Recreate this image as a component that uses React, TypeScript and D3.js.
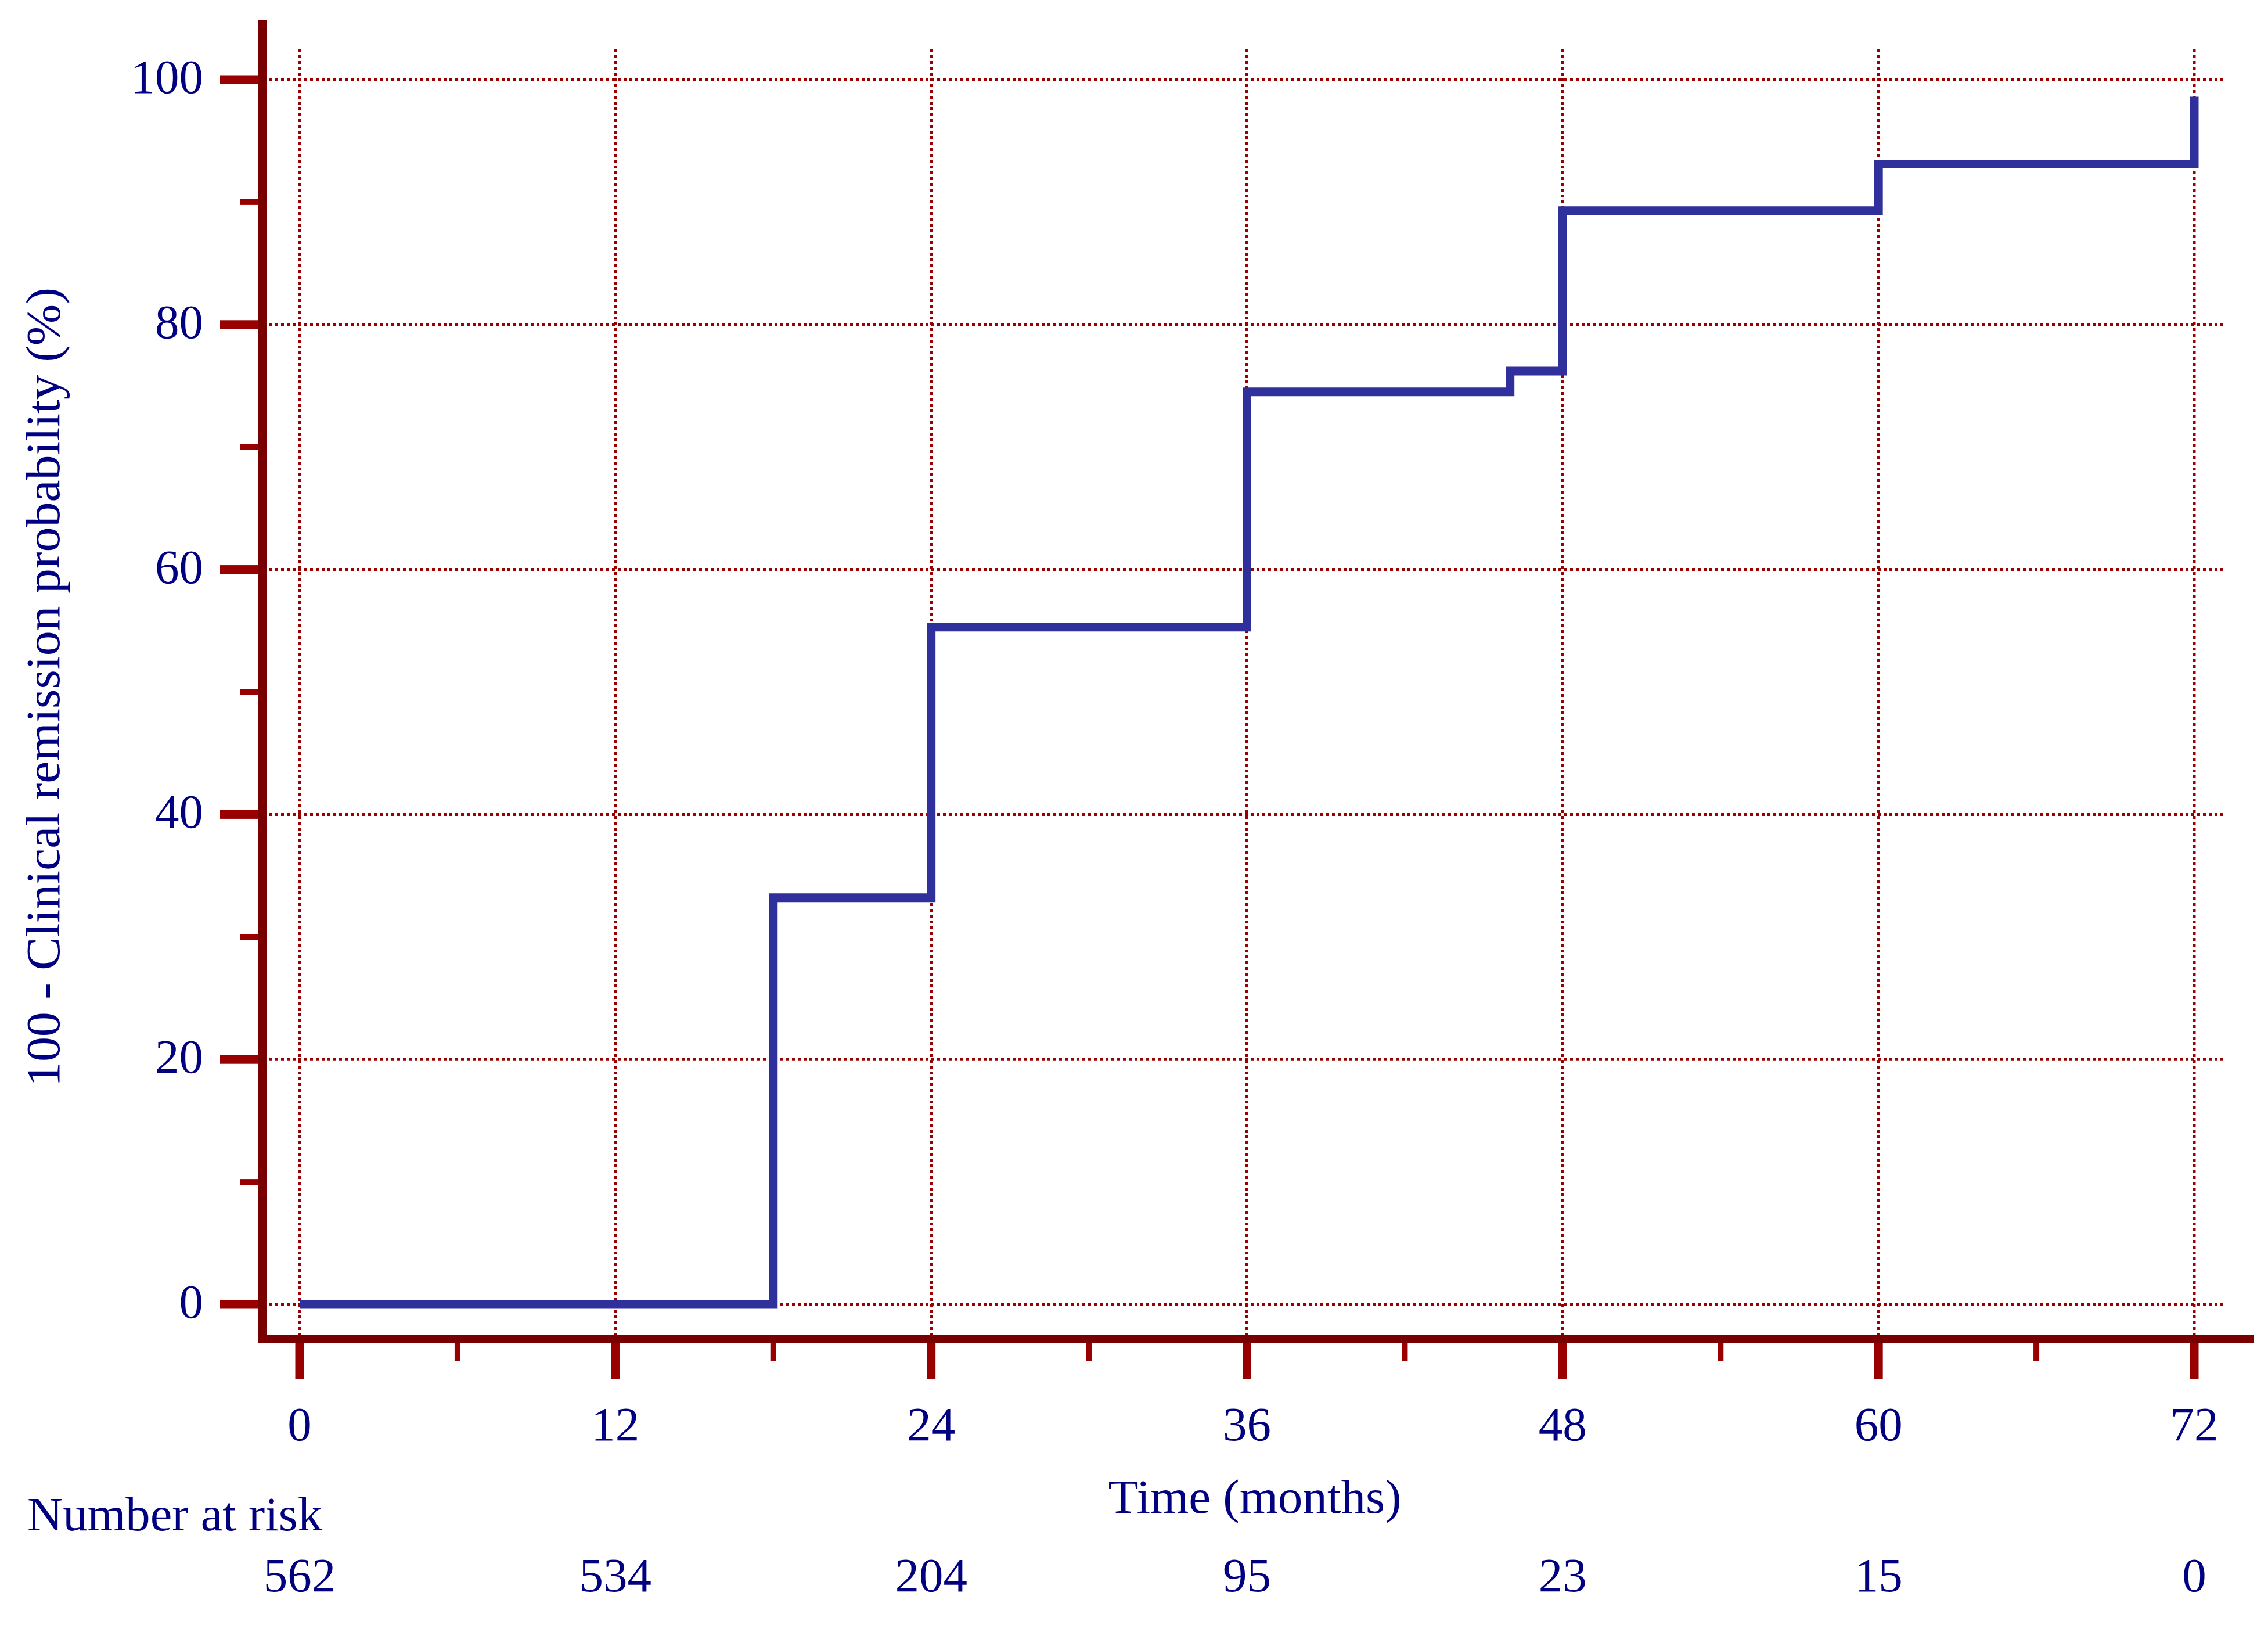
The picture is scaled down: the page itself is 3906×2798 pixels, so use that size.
import React from "react";
import * as d3 from "d3";

// ---- data ----
const stepTimes = [0, 18, 24, 36, 46, 48, 60, 72];
const stepValues = [0, 33.2, 55.3, 74.5, 76.2, 89.3, 93.1, 98.6];
const xMajorTicks = [0, 12, 24, 36, 48, 60, 72];
const xMinorTicks = [6, 18, 30, 42, 54, 66];
const yMajorTicks = [0, 20, 40, 60, 80, 100];
const yMinorTicks = [10, 30, 50, 70, 90];
const atRiskTimes = [0, 12, 24, 36, 48, 60, 72];
const atRiskCounts = ["562", "534", "204", "95", "23", "15", "0"];
const yTitle = "100 - Clinical remission probability (%)";
const xTitle = "Time (months)";
const riskTitle = "Number at risk";

const W = 3906;
const H = 2798;
const FONT = "'Liberation Serif', 'Times New Roman', serif";
const TEXT = "#000080";
const AXIS = "#780000";
const TICK = "#990000";
const GRID = "#990000";
const LINE = "#30309c";

export default function App() {
  const x = d3.scaleLinear().domain([0, 72]).range([516, 3779]);
  const y = d3.scaleLinear().domain([0, 100]).range([2246, 137]);

  const pts: [number, number][] = stepTimes.map((t, i) => [t, stepValues[i]]);
  const line = d3
    .line<[number, number]>()
    .x((d) => x(d[0]))
    .y((d) => y(d[1]))
    .curve(d3.curveStepAfter);

  const axisLeftX = 444;
  const axisW = 15;
  const axisBottomY = 2299;
  const axisH = 14;
  const fs = 83;

  return (
    <svg
      width={W}
      height={H}
      viewBox={`0 0 ${W} ${H}`}
      style={{ position: "absolute", left: 0, top: 0, background: "#fff" }}
    >
      <rect x={0} y={0} width={W} height={H} fill="#fff" />
      {/* grid */}
      <g stroke={GRID} strokeWidth={5} strokeDasharray="5 5" fill="none">
        {yMajorTicks.map((v) => (
          <line key={"gy" + v} x1={464} x2={3832} y1={y(v)} y2={y(v)} />
        ))}
        {xMajorTicks.map((t) => (
          <line key={"gx" + t} x1={x(t)} x2={x(t)} y1={85} y2={axisBottomY} />
        ))}
      </g>

      {/* curve */}
      <path
        d={line(pts) || ""}
        fill="none"
        stroke={LINE}
        strokeWidth={15}
        strokeLinejoin="miter"
        strokeLinecap="butt"
      />

      {/* y ticks */}
      {yMajorTicks.map((v) => (
        <rect key={"yt" + v} x={379} y={y(v) - 7.5} width={axisLeftX - 379} height={15} fill={TICK} />
      ))}
      {yMinorTicks.map((v) => (
        <rect key={"ytm" + v} x={414} y={y(v) - 5} width={axisLeftX - 414} height={10} fill={TICK} />
      ))}
      {/* x ticks */}
      {xMajorTicks.map((t) => (
        <rect key={"xt" + t} x={x(t) - 7.5} y={axisBottomY + axisH} width={15} height={61} fill={TICK} />
      ))}
      {xMinorTicks.map((t) => (
        <rect key={"xtm" + t} x={x(t) - 5} y={axisBottomY + axisH} width={10} height={30} fill={TICK} />
      ))}

      {/* axes */}
      <rect x={axisLeftX} y={34} width={axisW} height={axisBottomY + axisH - 34} fill={AXIS} />
      <rect x={axisLeftX} y={axisBottomY} width={3882 - axisLeftX} height={axisH} fill={AXIS} />

      {/* tick labels */}
      <g fill={TEXT} fontFamily={FONT} fontSize={fs}>
        {yMajorTicks.map((v) => (
          <text key={"yl" + v} x={350} y={y(v) + 23} textAnchor="end">
            {String(v)}
          </text>
        ))}
        {xMajorTicks.map((t) => (
          <text key={"xl" + t} x={x(t)} y={2480} textAnchor="middle">
            {String(t)}
          </text>
        ))}
        <text x={2161} y={2605} textAnchor="middle" textLength={505} lengthAdjust="spacingAndGlyphs">
          {xTitle}
        </text>
        <text x={47} y={2635} textLength={508} lengthAdjust="spacingAndGlyphs">
          {riskTitle}
        </text>
        {atRiskTimes.map((t, i) => (
          <text key={"ar" + t} x={x(t)} y={2740} textAnchor="middle">
            {atRiskCounts[i]}
          </text>
        ))}
        <text
          transform={`translate(102, 1183) rotate(-90)`}
          textAnchor="middle"
          textLength={1376}
          lengthAdjust="spacingAndGlyphs"
        >
          {yTitle}
        </text>
      </g>
    </svg>
  );
}
